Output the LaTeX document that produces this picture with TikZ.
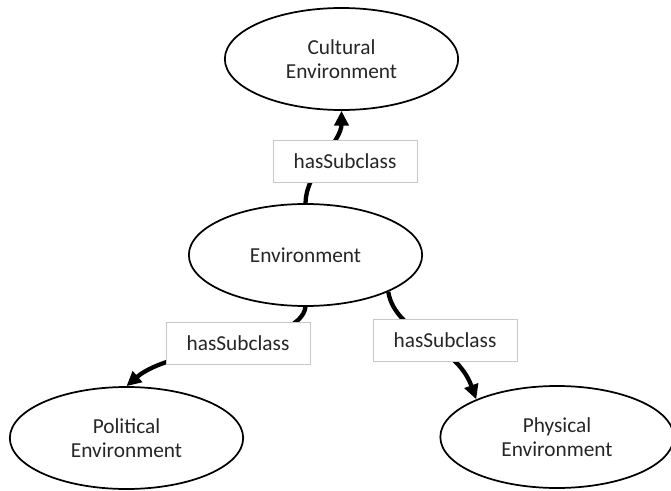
\documentclass[tikz,border=0pt]{standalone}
\usepackage{fontspec}
\setmainfont{Carlito}
\usepackage{tikz}
\usetikzlibrary{arrows.meta, shapes.geometric}
\definecolor{boxgray}{HTML}{C8C8C8}
\definecolor{inkgray}{HTML}{262626}

\begin{document}
\begin{tikzpicture}[x=0.75pt, y=0.75pt, font=\fontsize{16}{18}\selectfont,
  concept/.style={ellipse, draw, line width=1.3pt, minimum width=175pt, minimum height=76.5pt,
                  inner sep=0pt, align=center, text=inkgray},
  relbox/.style={draw=boxgray, line width=0.6pt, fill=white, minimum width=108pt,
                 minimum height=31.5pt, text=inkgray},
  link/.style={line width=3.2pt, -{Triangle[length=11pt, width=10.5pt]}}]
\useasboundingbox (0,0) rectangle (671,490);

% ---- classes -------------------------------------------------------------
\node[concept] (cult) at (341.5,431) {Cultural\\Environment};
\node[concept] (env)  at (305.5,235) {Environment};
\node[concept] (pol)  at (126.5,52)  {Political\\Environment};
\node[concept] (phys) at (557,53)    {Physical\\Environment};

% ---- subclass links ------------------------------------------------------
\draw[link] (env.north) .. controls +(0,30) and +(0,-30) .. (cult.south);
\draw[link] (env.south) .. controls +(-5,-39) and +(46,40) .. (pol.north);
\draw[link] (env.-24) .. controls +(7,-42) and +(-20,56) .. (phys.155);

% ---- link labels ---------------------------------------------------------
\node[relbox] (labup)    at (345,329) {hasSubclass};
\node[relbox] (lableft)  at (238,147) {hasSubclass};
\node[relbox] (labright) at (445,150) {hasSubclass};
\end{tikzpicture}
\end{document}
